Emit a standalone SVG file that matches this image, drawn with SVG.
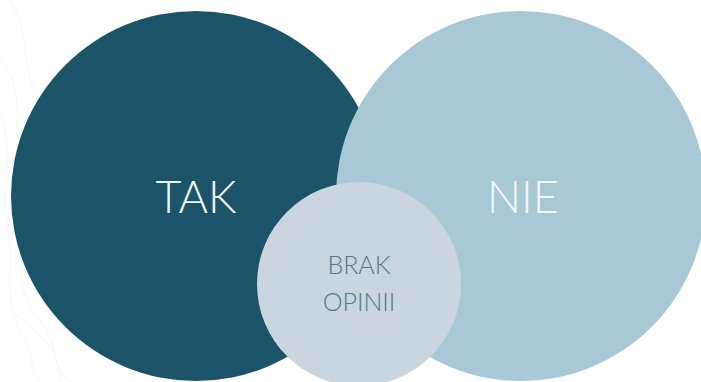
<svg xmlns="http://www.w3.org/2000/svg" width="701" height="382" viewBox="0 0 701 382">
  <style>
    .lbl { font-family: Lato, "Open Sans", "Liberation Sans", sans-serif; font-weight: 300; text-anchor: middle; }
    .big { font-size: 45px; fill: #f4f7f9; }
    .small { font-size: 25px; fill: #4d7a90; }
    .contour { fill: none; stroke: #f5f6f7; stroke-width: 1; }
  </style>
  <rect width="701" height="382" fill="#ffffff"/>
  <g id="background-contours">
    <path class="contour" d="M0 60 C30 90 10 140 20 190 C30 240 5 280 40 320 C60 345 50 370 70 382"/>
    <path class="contour" d="M0 110 C15 150 0 190 8 230 C15 270 0 300 25 340 C35 360 30 375 40 382"/>
    <path class="contour" d="M0 300 C20 320 40 330 55 355 C62 370 58 378 60 382"/>
    <path class="contour" d="M10 0 C30 30 20 60 35 90"/>
  </g>
  <g id="node-tak">
    <circle cx="196" cy="196" r="185" fill="#1b5468"/>
    <text class="lbl big" x="196" y="213">TAK</text>
  </g>
  <g id="node-nie">
    <circle cx="521" cy="196" r="185" fill="#a7c8d4"/>
    <text class="lbl big" x="523" y="213">NIE</text>
  </g>
  <g id="node-brak">
    <circle cx="359" cy="284" r="102" fill="#c9d6df"/>
    <text class="lbl small" x="359" y="274">BRAK</text>
    <text class="lbl small" x="359" y="311">OPINII</text>
  </g>
  <g id="connectors"/>
</svg>
